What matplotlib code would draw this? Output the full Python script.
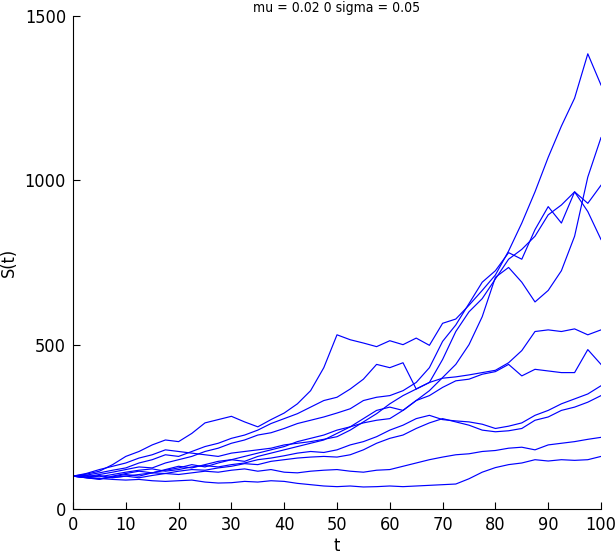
import numpy as np
import matplotlib
matplotlib.use('Agg')
import matplotlib.pyplot as plt

plt.rcParams['font.family'] = ['DejaVu Sans']
plt.rcParams['font.stretch'] = 'condensed'

# time grid (every 2.5)
t = np.arange(0, 100.1, 2.5)

# paths S(t)
path_b = [100, 106, 115, 135, 160, 175, 195, 210, 205, 230, 262, 272, 282, 265, 250, 272, 292, 320, 360, 430,
          530, 515, 505, 494, 512, 500, 520, 498, 565, 578, 620, 665, 712, 785, 870, 965, 1070, 1165, 1250, 1385, 1290]
path_c = [100, 103, 110, 118, 125, 140, 150, 165, 160, 175, 190, 200, 215, 225, 240, 260, 275, 290, 310, 330,
          340, 365, 395, 440, 430, 445, 365, 385, 455, 540, 600, 640, 700, 760, 790, 830, 895, 925, 965, 930, 985]
path_d = [100, 98, 105, 112, 120, 128, 125, 140, 150, 160, 175, 185, 200, 210, 225, 232, 245, 260, 270, 280,
          292, 305, 330, 340, 345, 360, 385, 430, 510, 560, 625, 690, 725, 780, 760, 850, 920, 870, 965, 905, 820]
path_e = [100, 95, 90, 100, 108, 115, 110, 120, 130, 125, 135, 145, 150, 160, 170, 180, 190, 205, 215, 225,
          240, 250, 262, 270, 275, 300, 330, 360, 400, 440, 500, 585, 705, 735, 690, 630, 665, 725, 830, 1010, 1130]
path_f = [100, 108, 120, 130, 140, 155, 165, 180, 175, 170, 165, 160, 170, 175, 180, 185, 195, 200, 205, 212,
          220, 240, 265, 290, 320, 345, 365, 385, 398, 402, 408, 415, 422, 445, 482, 540, 545, 540, 548, 530, 545]
path_g = [100, 96, 92, 98, 105, 100, 110, 118, 125, 135, 128, 140, 150, 145, 160, 170, 180, 190, 200, 210,
          230, 250, 275, 300, 310, 300, 330, 345, 370, 390, 395, 410, 418, 440, 405, 425, 420, 415, 415, 485, 440]
path_h = [100, 102, 98, 105, 112, 118, 122, 115, 120, 128, 132, 128, 135, 140, 150, 155, 162, 170, 175, 172,
          180, 195, 205, 220, 240, 255, 275, 285, 272, 268, 265, 258, 245, 252, 262, 285, 300, 320, 335, 350, 375]
path_i = [100, 97, 102, 95, 100, 105, 110, 108, 115, 120, 118, 125, 130, 138, 135, 145, 150, 155, 158, 160,
          158, 165, 180, 200, 215, 225, 245, 262, 275, 265, 255, 240, 235, 238, 245, 270, 280, 300, 310, 325, 345]
path_j = [100, 95, 92, 96, 100, 95, 102, 108, 105, 110, 115, 112, 118, 122, 115, 120, 112, 110, 115, 118,
          120, 115, 112, 118, 120, 130, 140, 150, 158, 165, 168, 175, 178, 185, 188, 180, 195, 200, 205, 212, 218]
path_k = [100, 96, 93, 90, 88, 90, 86, 84, 86, 88, 82, 79, 80, 84, 82, 86, 84, 78, 74, 70,
          68, 70, 67, 68, 70, 68, 70, 72, 74, 76, 92, 112, 126, 135, 140, 150, 146, 150, 148, 150, 160]

paths = [path_b, path_c, path_d, path_e, path_f, path_g, path_h, path_i, path_j, path_k]

fig = plt.figure(figsize=(6.16, 5.59), dpi=100)
ax = fig.add_axes([73 / 616, 50 / 559, 528 / 616, 493 / 559])

for p in paths:
    ax.plot(t, p, color=(0, 0, 1), linewidth=0.85)

ax.set_xlim(0, 100)
ax.set_ylim(0, 1500)
ax.set_xticks(np.arange(0, 101, 10))
ax.set_yticks([0, 500, 1000, 1500])
ax.spines['top'].set_visible(False)
ax.spines['right'].set_visible(False)
ax.tick_params(direction='in', length=5, width=0.8, labelsize=13, pad=5)
ax.set_xlabel('t', fontsize=13, labelpad=2)
ax.set_ylabel('S(t)', fontsize=13)
ax.yaxis.set_label_coords(-0.104, 0.5)

# title squeezed in at the very top, as in the reference
fig.text(337 / 616, 1 - 12 / 559, 'mu = 0.02 0 sigma = 0.05', ha='center', va='baseline', fontsize=10)

fig.savefig('out.png', dpi=100)
